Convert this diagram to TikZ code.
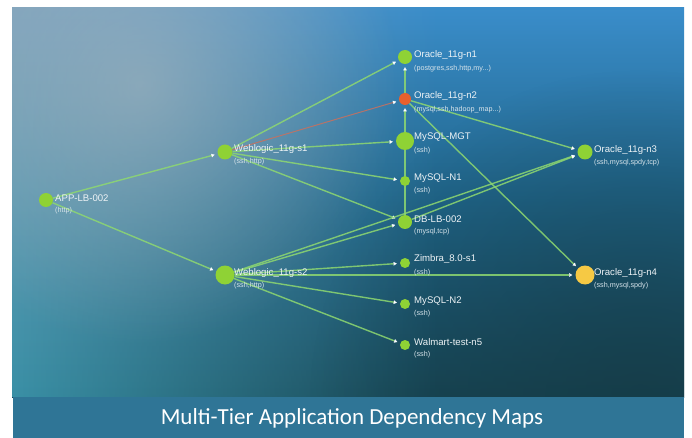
\documentclass[tikz,border=0pt]{standalone}
\usepackage{fontspec}
\setmainfont{Liberation Sans}
\newfontfamily\capfont{Carlito}
\usetikzlibrary{arrows.meta,fadings}
\tikzfading[name=fadeglow, inner color=transparent!0, outer color=transparent!100]
\tikzfading[name=faderight, left color=transparent!0, right color=transparent!100]
\definecolor{topR}{HTML}{3A8DCA}
\definecolor{midR}{HTML}{1F6488}
\definecolor{botR}{HTML}{174452}
\definecolor{leftTop}{HTML}{7AA2BE}
\definecolor{leftBot}{HTML}{3A90A6}
\definecolor{glowc}{HTML}{A9B6BD}
\definecolor{darkc}{HTML}{153A45}
\definecolor{capbar}{HTML}{2F7596}
\definecolor{ngreen}{HTML}{8FD235}
\definecolor{nred}{HTML}{E8602E}
\definecolor{nyellow}{HTML}{F6C944}
\definecolor{edgec}{HTML}{8ED870}
\definecolor{edger}{HTML}{C9705E}
\definecolor{ttlc}{HTML}{EEF3F6}
\definecolor{subc}{HTML}{D6E3EA}
\pgfdeclarelayer{bg}
\pgfdeclarelayer{edges}
\pgfsetlayers{bg,edges,main}
\tikzset{
  gdot/.style={circle, fill=ngreen, inner sep=0pt, minimum size=#1},
  ttl/.style={anchor=west, text=ttlc, inner sep=0pt, font=\fontsize{9.6}{11}\selectfont},
  sub/.style={anchor=west, text=subc, inner sep=0pt, font=\fontsize{7.2}{9}\selectfont},
  edge/.style={draw=edgec, line width=1.4pt, draw opacity=0.85, shorten >=3pt,
    -{Triangle[length=3.2pt,width=3.6pt,color=white,fill=white,line width=0.3pt]}},
  redge/.style={edge, draw=edger, line width=1pt}
}
\begin{document}
\begin{tikzpicture}[x=1pt,y=-1pt]
\useasboundingbox (0,0) rectangle (692,438);
\begin{pgfonlayer}{bg}
\fill[white] (0,0) rectangle (692,438);
\begin{scope}
\clip (12,8) rectangle (684,397);
\shade[top color=topR, bottom color=botR, middle color=midR] (12,8) rectangle (684,397);
\shade[top color=leftTop, bottom color=leftBot, path fading=faderight] (12,8) rectangle (440,397);
\fill[glowc, path fading=fadeglow, fill opacity=0.6] (140,85) circle (260pt);
\fill[darkc, path fading=fadeglow, fill opacity=0.7] (640,400) circle (330pt);
\end{scope}
\fill[capbar] (13,397) rectangle (684,438);
\end{pgfonlayer}

% nodes
\node[gdot=14pt] (app) at (46,200) {};
\node[gdot=15pt] (s1) at (225,152) {};
\node[gdot=19pt] (s2) at (225,275) {};
\node[gdot=14pt] (n1) at (405,57) {};
\node[gdot=12pt, fill=nred] (n2) at (405,99) {};
\node[gdot=18pt] (mgt) at (405,141) {};
\node[gdot=10pt] (my1) at (405,181) {};
\node[gdot=14pt] (dblb) at (405,222) {};
\node[gdot=10pt] (zim) at (405,263) {};
\node[gdot=10pt] (my2) at (405,304) {};
\node[gdot=10pt] (wal) at (405,345) {};
\node[gdot=15pt] (n3) at (585,152) {};
\node[gdot=19pt, fill=nyellow] (n4) at (585,275) {};

% labels
\node[ttl] (lapp) at (55,198) {APP-LB-002};
\node[sub] (sapp) at (55,211) {(http)};
\node[ttl] (ls1) at (234,149) {Weblogic\_11g-s1};
\node[sub] (ss1) at (234,162) {(ssh,http)};
\node[ttl] (ls2) at (234,273) {Weblogic\_11g-s2};
\node[sub] (ss2) at (234,286) {(ssh,http)};
\node[ttl] (ln1) at (414,55) {Oracle\_11g-n1};
\node[sub] (sn1) at (414,69) {(postgres,ssh,http,my...)};
\node[ttl] (ln2) at (414,96) {Oracle\_11g-n2};
\node[sub] (sn2) at (414,110) {(mysql,ssh,hadoop\_map...)};
\node[ttl] (lmgt) at (414,137) {MySQL-MGT};
\node[sub] (smgt) at (414,151) {(ssh)};
\node[ttl] (lmy1) at (414,178) {MySQL-N1};
\node[sub] (smy1) at (414,191) {(ssh)};
\node[ttl] (ldb) at (414,219) {DB-LB-002};
\node[sub] (sdb) at (414,232) {(mysql,tcp)};
\node[ttl] (lzim) at (414,259) {Zimbra\_8.0-s1};
\node[sub] (szim) at (414,273) {(ssh)};
\node[ttl] (lmy2) at (414,301) {MySQL-N2};
\node[sub] (smy2) at (414,314) {(ssh)};
\node[ttl] (lwal) at (414,342) {Walmart-test-n5};
\node[sub] (swal) at (414,355) {(ssh)};
\node[ttl] (ln3) at (594,150) {Oracle\_11g-n3};
\node[sub] (sn3) at (594,163) {(ssh,mysql,spdy,tcp)};
\node[ttl] (ln4) at (594,273) {Oracle\_11g-n4};
\node[sub] (sn4) at (594,286) {(ssh,mysql,spdy)};

\node[text=white, font=\capfont\fontsize{23}{26}\selectfont] (cap) at (352,418) {Multi-Tier Application Dependency Maps};

% edges
\begin{pgfonlayer}{edges}
\draw[edge] (app) -- (s1);
\draw[edge] (app) -- (s2);
\draw[edge] (s1) -- (n1);
\draw[redge] (s1) -- (n2);
\draw[edge] (s1) -- (mgt);
\draw[edge] (s1) -- (my1);
\draw[edge] (s1) -- (dblb);
\draw[edge] (s2) -- (dblb);
\draw[edge] (s2) -- (n3);
\draw[edge] (dblb) -- (n3);
\draw[edge] (s2) -- (zim);
\draw[edge] (s2) -- (n4);
\draw[edge] (s2) -- (my2);
\draw[edge] (s2) -- (wal);
\draw[edge] (dblb) -- (n2);
\draw[edge] (n2) -- (n1);
\draw[edge] (n2) -- (n3);
\draw[edge] (n2) -- (n4);
\end{pgfonlayer}
\end{tikzpicture}
\end{document}
